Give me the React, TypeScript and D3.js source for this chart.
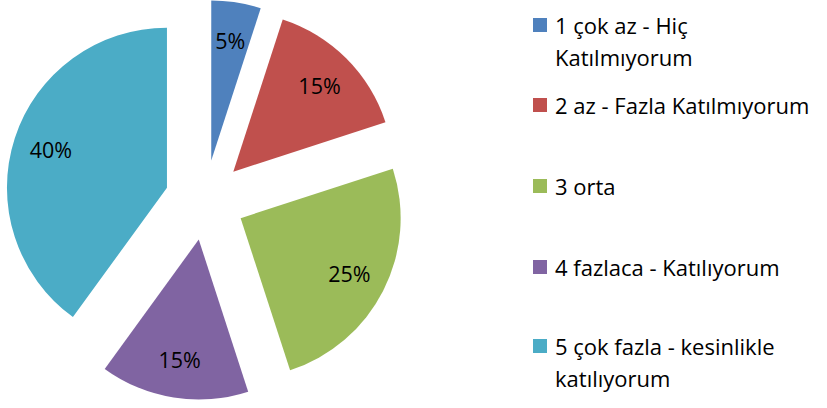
import * as d3 from 'd3';

const categories = [
  ['1 çok az - Hiç', 'Katılmıyorum'],
  ['2 az - Fazla Katılmıyorum'],
  ['3 orta'],
  ['4 fazlaca - Katılıyorum'],
  ['5 çok fazla - kesinlikle', 'katılıyorum'],
];
const values = [5, 15, 25, 15, 40];
const colors = ['#4F81BD', '#C0504D', '#9BBB59', '#8064A2', '#4BACC6'];
const legendY = [25, 105, 186, 267, 346];

const width = 827;
const height = 408;
const cx = 205;
const cy = 200;
const radius = 160;
const explode = 40;
const labelRadius = 122;
const font = "'Open Sans', sans-serif";

const App = () => {
  const pie = d3.pie<number>().sort(null).value(d => d)(values);
  const arc = d3.arc<d3.PieArcDatum<number>>().innerRadius(0).outerRadius(radius);

  return (
    <svg width={width} height={height} style={{ position: 'absolute', left: 0, top: 0 }} fontFamily={font}>
      <g transform={`translate(${cx},${cy})`}>
        {pie.map((p, i) => {
          const mid = (p.startAngle + p.endAngle) / 2;
          const dx = Math.sin(mid) * explode;
          const dy = -Math.cos(mid) * explode;
          const lx = Math.sin(mid) * labelRadius;
          const ly = -Math.cos(mid) * labelRadius;
          return (
            <g key={i} transform={`translate(${dx},${dy})`}>
              <path d={arc(p) ?? ''} fill={colors[i]} />
              <text x={lx} y={ly} textAnchor="middle" dominantBaseline="central" fontSize={21.5} fill="#000">
                {`${values[i]}%`}
              </text>
            </g>
          );
        })}
      </g>
      {categories.map((lines, i) => (
        <g key={i} transform={`translate(533,${legendY[i]})`}>
          <rect x={0} y={-7} width={14} height={14} fill={colors[i]} />
          {lines.map((t, j) => (
            <text key={j} x={22} y={j * 32} dominantBaseline="central" fontSize={22} fill="#000">
              {t}
            </text>
          ))}
        </g>
      ))}
    </svg>
  );
};

export default App;
